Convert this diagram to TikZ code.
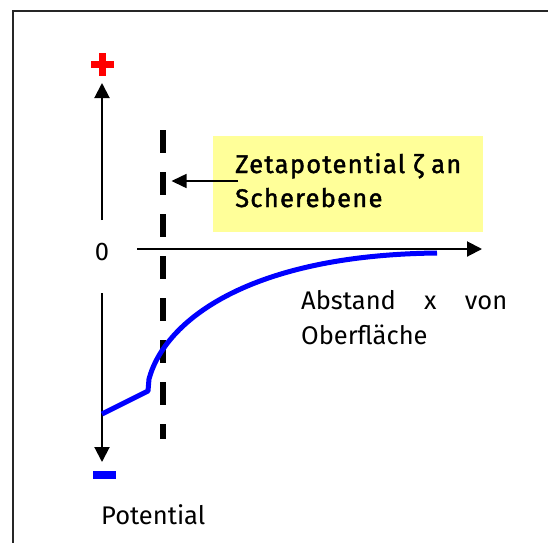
\documentclass[tikz,border=0pt]{standalone}
\usepackage{fontspec}
\setmainfont{Fira Sans}
\newfontfamily\boxfont[FakeBold=1.6,LetterSpace=5]{Fira Sans}
\usetikzlibrary{arrows.meta}
\definecolor{boxyellow}{HTML}{FFFF99}
\definecolor{pureblue}{HTML}{0000FF}
\definecolor{purered}{HTML}{FF0000}
\tikzset{
  axisline/.style={line width=2pt, -{Triangle[width=15pt,length=15pt]}},
  thinarrow/.style={line width=1.5pt, -{Triangle[width=14pt,length=15pt]}},
  shearline/.style={line width=6pt, dash pattern=on 23pt off 19pt},
  curveline/.style={line width=5pt, pureblue, line join=round},
  lbl/.style={inner sep=0pt, font=\fontsize{25.5}{30}\selectfont},
  boxlbl/.style={inner sep=0pt, font=\boxfont\fontsize{25.5}{34}\selectfont},
}
\begin{document}
\begin{tikzpicture}[x=1pt,y=-1pt]
\useasboundingbox (0,0) rectangle (548,542);
% frame (only top and left edges visible)
\draw[line width=2pt, black!85] (13,545) -- (13,11) -- (552,11);
% plus and minus signs
\fill[purered] (91,61) rectangle (114,68);
\fill[purered] (99,53) rectangle (106,76);
\fill[pureblue] (93,471) rectangle (116,479);
% yellow box
\fill[boxyellow] (213,136) rectangle (483,232);
\node[boxlbl, anchor=base west] (zeta) at (235,173) {Zetapotential ζ an};
\node[boxlbl, anchor=base west] (scher) at (235,207) {Scherebene};
% axes
\node[lbl] (zero) at (102,252) {0};
\coordinate (ytopstart) at (102,220);
\coordinate (ytop) at (102,83);
\coordinate (ybotstart) at (102,293);
\coordinate (ybot) at (102,462);
\coordinate (xstart) at (137,249);
\coordinate (xend) at (482,249);
\draw[axisline] (ytopstart) -- (ytop);
\draw[axisline] (ybotstart) -- (ybot);
\draw[axisline] (xstart) -- (xend);
% shear plane
\coordinate (shtop) at (162.5,130);
\coordinate (shbot) at (162.5,439);
\draw[shearline] (shtop) -- (shbot);
\coordinate (arrstart) at (238,181);
\coordinate (arrend) at (171.5,181);
\draw[thinarrow] (arrstart) -- (arrend);
% potential curve
\coordinate (c0) at (102,414);
\coordinate (c1) at (148,391);
\coordinate (c2) at (149,379);
\coordinate (c3) at (437,253);
\draw[curveline] (c0) -- (c1) -- (c2) .. controls (165,320) and (250,255) .. (c3);
% labels
\node[lbl, anchor=base west] (abst) at (301,309) {\makebox[206pt][s]{Abstand x von}};
\node[lbl, anchor=base west] (ober) at (301,344) {Oberfläche};
\node[lbl, anchor=base west] (pot) at (101,524) {Potential};
\end{tikzpicture}
\end{document}
